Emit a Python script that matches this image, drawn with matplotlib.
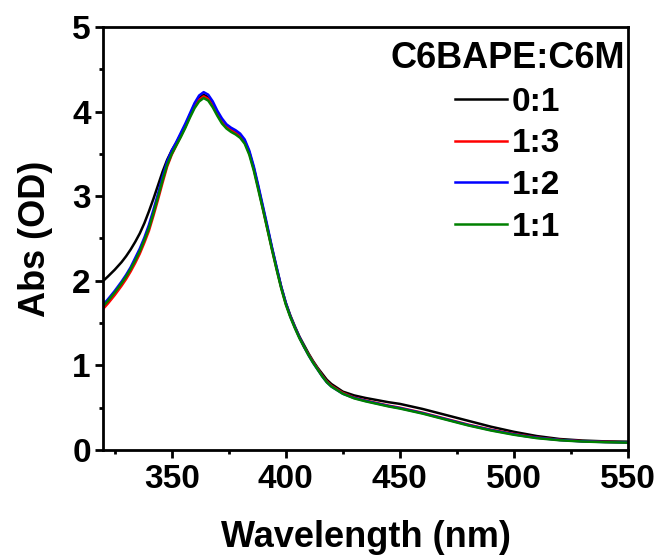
import matplotlib
matplotlib.use("Agg")
import matplotlib.pyplot as plt
from matplotlib.ticker import MultipleLocator

plt.rcParams['font.family'] = ['Liberation Sans', 'DejaVu Sans']
plt.rcParams['font.weight'] = 'bold'

wavelength = [320, 322, 325, 328, 330, 332, 334, 336, 338,
              340, 342, 344, 346, 348, 350, 352, 354, 356, 358, 360, 362, 364, 366, 368, 370,
              372, 374, 376, 378, 380, 382, 384, 386, 388, 390, 392, 394, 396, 398, 400, 402,
              404, 406, 408, 410, 412, 414, 416, 418, 420,
              425, 430, 435, 440, 445, 450, 455, 460, 465, 470, 475, 480, 485, 490, 495, 500,
              505, 510, 520, 530, 540, 550]

abs_0_1 = [2.00, 2.05, 2.13, 2.22, 2.29, 2.37, 2.46, 2.56, 2.68,
           2.82, 2.97, 3.13, 3.29, 3.43, 3.54, 3.63, 3.73, 3.84, 3.96, 4.08, 4.16, 4.20, 4.17, 4.09, 3.99,
           3.90, 3.83, 3.79, 3.76, 3.72, 3.65, 3.52, 3.33, 3.10, 2.86, 2.62, 2.38, 2.15, 1.93, 1.74, 1.59,
           1.46, 1.34, 1.24, 1.14, 1.05, 0.97, 0.90, 0.83, 0.78,
           0.69, 0.645, 0.615, 0.59, 0.565, 0.545, 0.515, 0.485, 0.45, 0.415, 0.38, 0.345, 0.31, 0.275, 0.245, 0.215,
           0.19, 0.165, 0.13, 0.112, 0.102, 0.098]

abs_1_3 = [1.67, 1.73, 1.83, 1.94, 2.02, 2.11, 2.21, 2.32, 2.45,
           2.59, 2.77, 2.96, 3.16, 3.35, 3.49, 3.60, 3.71, 3.82, 3.95, 4.06, 4.14, 4.18, 4.15, 4.07, 3.97,
           3.88, 3.82, 3.78, 3.75, 3.71, 3.64, 3.51, 3.32, 3.09, 2.85, 2.61, 2.37, 2.14, 1.92, 1.73, 1.58,
           1.45, 1.33, 1.22, 1.13, 1.04, 0.96, 0.88, 0.81, 0.76,
           0.675, 0.62, 0.585, 0.555, 0.525, 0.50, 0.47, 0.44, 0.405, 0.37, 0.335, 0.30, 0.27, 0.24, 0.215, 0.19,
           0.168, 0.148, 0.12, 0.104, 0.096, 0.090]

abs_1_2 = [1.72, 1.78, 1.88, 1.99, 2.07, 2.16, 2.27, 2.38, 2.51,
           2.66, 2.84, 3.03, 3.23, 3.41, 3.54, 3.64, 3.75, 3.86, 3.98, 4.10, 4.19, 4.23, 4.20, 4.12, 4.01,
           3.92, 3.85, 3.81, 3.78, 3.74, 3.67, 3.54, 3.35, 3.12, 2.88, 2.64, 2.39, 2.16, 1.93, 1.74, 1.58,
           1.45, 1.33, 1.22, 1.12, 1.03, 0.95, 0.87, 0.80, 0.75,
           0.665, 0.615, 0.58, 0.55, 0.52, 0.495, 0.465, 0.435, 0.40, 0.365, 0.33, 0.295, 0.265, 0.235, 0.21, 0.185,
           0.163, 0.145, 0.118, 0.102, 0.094, 0.089]

abs_1_1 = [1.70, 1.76, 1.86, 1.97, 2.05, 2.14, 2.24, 2.35, 2.48,
           2.62, 2.80, 2.99, 3.19, 3.37, 3.50, 3.60, 3.70, 3.81, 3.93, 4.04, 4.12, 4.16, 4.13, 4.05, 3.95,
           3.86, 3.80, 3.76, 3.73, 3.69, 3.62, 3.49, 3.30, 3.07, 2.84, 2.60, 2.36, 2.13, 1.91, 1.72, 1.57,
           1.44, 1.32, 1.22, 1.12, 1.03, 0.95, 0.87, 0.80, 0.75,
           0.665, 0.61, 0.575, 0.545, 0.515, 0.49, 0.46, 0.43, 0.395, 0.36, 0.325, 0.29, 0.26, 0.23, 0.205, 0.18,
           0.16, 0.14, 0.115, 0.10, 0.092, 0.087]

series_labels = ['0:1', '1:3', '1:2', '1:1']
series_colors = ['#000000', '#ff0000', '#0000ff', '#008000']
legend_title = 'C6BAPE:C6M'

fig = plt.figure(figsize=(6.62, 5.59), dpi=100)
ax = fig.add_axes([0.156, 0.195, 0.9486 - 0.156, 0.9517 - 0.195])

for y, lab, col in zip([abs_0_1, abs_1_3, abs_1_2, abs_1_1], series_labels, series_colors):
    ax.plot(wavelength, y, color=col, lw=1.8, label=lab, solid_joinstyle='round')

ax.set_xlim(320, 550)
ax.set_ylim(0, 5)
ax.xaxis.set_major_locator(MultipleLocator(50))
ax.xaxis.set_minor_locator(MultipleLocator(25))
ax.yaxis.set_major_locator(MultipleLocator(1))
ax.yaxis.set_minor_locator(MultipleLocator(0.5))

for s in ax.spines.values():
    s.set_linewidth(2.0)

ax.tick_params(which='major', direction='out', length=6, width=2.0, labelsize=24, pad=4)
ax.tick_params(which='minor', direction='out', length=3, width=2.0)
ax.tick_params(axis='y', which='major', pad=3)
for lbl in ax.get_xticklabels() + ax.get_yticklabels():
    lbl.set_fontweight('bold')

ax.set_xlabel('Wavelength (nm)', fontsize=26, fontweight='bold', labelpad=18)
ax.set_ylabel('Abs (OD)', fontsize=26, fontweight='bold', labelpad=14)

leg = ax.legend(title=legend_title, loc='upper right', bbox_to_anchor=(1.0, 0.975),
                frameon=False, fontsize=24, handlelength=1.55, handletextpad=0.15,
                labelspacing=0.32, borderaxespad=0.0, borderpad=0.1,
                title_fontproperties={'size': 26, 'weight': 'bold'})
for t in leg.get_texts():
    t.set_fontweight('bold')
for h in leg.legend_handles:
    h.set_linewidth(1.8)

fig.savefig('out.png', dpi=100)
